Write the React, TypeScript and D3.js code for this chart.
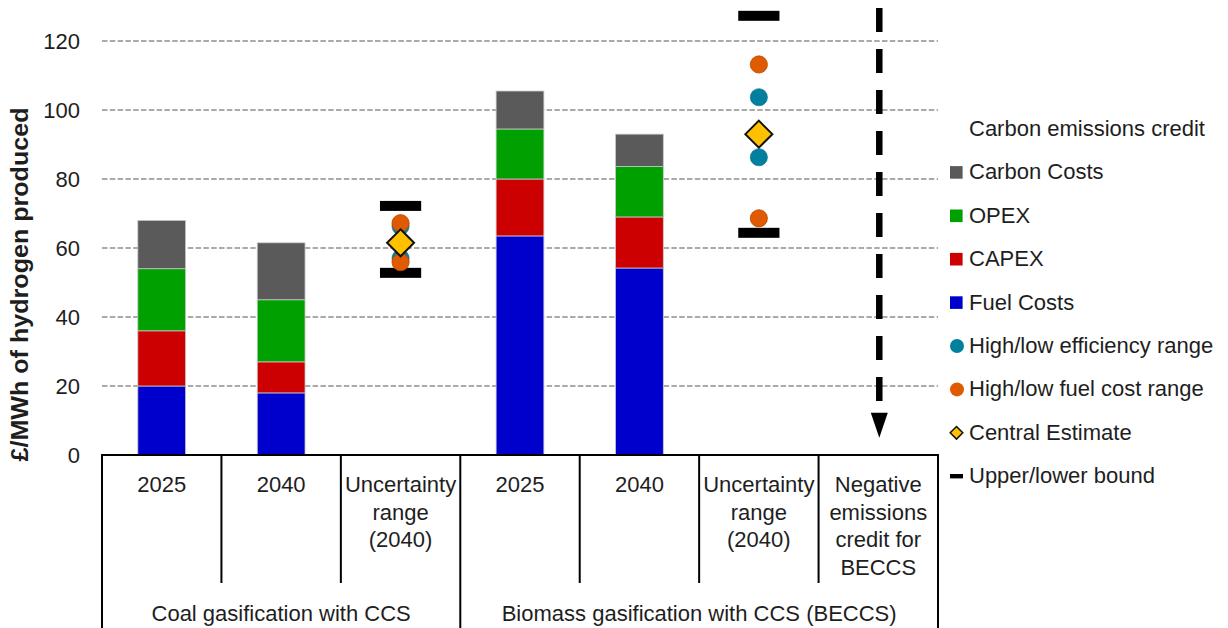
import React from "react";
import * as d3 from "d3";

// ---------- data ----------
const categories = ["2025", "2040", "Uncertainty range (2040)", "2025 ", "2040 ", "Uncertainty range (2040) ", "Negative emissions credit for BECCS"];
const categoryLines = [["2025"], ["2040"], ["Uncertainty", "range", "(2040)"], ["2025"], ["2040"], ["Uncertainty", "range", "(2040)"], ["Negative", "emissions", "credit for", "BECCS"]];
const groups = ["Coal gasification with CCS", "Biomass gasification with CCS (BECCS)"];
const groupStart = [0, 3];
const groupEnd = [2, 6];

const barCategoryIdx = [0, 1, 3, 4];
const fuelCosts = [20, 18, 63.5, 54.2];
const capex = [16, 9, 16.5, 14.8];
const opex = [18, 18, 14.5, 14.6];
const carbonCosts = [14, 16.5, 11, 9.4];

const uncertaintyIdx = [2, 5];
const upperBound = [72.2, 127.3];
const lowerBound = [52.8, 64.4];
const effHigh = [66.3, 103.7];
const effLow = [57.0, 86.3];
const fuelHigh = [67.2, 113.2];
const fuelLow = [55.9, 68.6];
const centralEstimate = [61.5, 93];

const creditIdx = 6;
const creditFrom = 130;
const creditTo = 5;

const yTicks = [0, 20, 40, 60, 80, 100, 120];

const legendLabels = ["Carbon emissions credit", "Carbon Costs", "OPEX", "CAPEX", "Fuel Costs", "High/low efficiency range", "High/low fuel cost range", "Central Estimate", "Upper/lower bound"];
const legendKinds = ["none", "carbon", "opex", "capex", "fuel", "eff", "fuelRange", "central", "bound"];

// ---------- styles ----------
const COLORS: Record<string, string> = {
  fuel: "#0000cc",
  capex: "#cc0000",
  opex: "#00a000",
  carbon: "#5a5a5a",
  eff: "#00809e",
  fuelRange: "#df5a00",
  central: "#ffc000",
};
const FONT = "'Liberation Sans', Arial, sans-serif";
const TXT = "#1e1e1e";
const FS = 22;

export default function App() {
  const W = 1228, H = 628;
  const X0 = 102, X1 = 938, Y0 = 455;
  const x = d3.scaleBand<number>().domain(d3.range(categories.length)).range([X0, X1]).padding(0);
  const y = d3.scaleLinear().domain([0, 130]).range([Y0, 6.5]);
  const bw = x.bandwidth();
  const cx = (i: number) => (x(i) as number) + bw / 2;

  const stackKeys = ["fuel", "capex", "opex", "carbon"];
  const rows = barCategoryIdx.map((ci, k) => ({ ci, fuel: fuelCosts[k], capex: capex[k], opex: opex[k], carbon: carbonCosts[k] }));
  const series = d3.stack<any>().keys(stackKeys)(rows);
  const barW = bw * 0.4;

  const boundW = bw * 0.345;
  const r = 8.6;
  const dHalf = 13.5;
  const diamond = (px: number, py: number, h: number) => `M${px},${py - h}L${px + h},${py}L${px},${py + h}L${px - h},${py}Z`;

  const legX = 950, legTX = 969, legY0 = 136, legStep = 43.4;

  const arrowX = cx(creditIdx) + 1;
  const arrowTipY = y(creditTo);

  return (
    <svg width={W} height={H} style={{ position: "absolute", left: 0, top: 0, background: "#fff" }} fontFamily={FONT}>
      <rect x={0} y={0} width={W} height={H} fill="#fff" />
      {/* grid */}
      {yTicks.filter((t) => t > 0).map((t) => (
        <line key={"g" + t} x1={X0} x2={X1} y1={y(t)} y2={y(t)} stroke="#8f8f8f" strokeWidth={1.6} strokeDasharray="5.5,2.3" />
      ))}
      {/* y tick labels */}
      {yTicks.map((t) => (
        <text key={"t" + t} x={80} y={y(t)} dy="0.35em" textAnchor="end" fontSize={FS} fill={TXT}>{t}</text>
      ))}
      {/* y title */}
      <text transform={`translate(28,${(463 + 106) / 2}) rotate(-90)`} textAnchor="middle" fontSize={23} fontWeight="bold" fill={TXT}
        textLength={354} lengthAdjust="spacingAndGlyphs">£/MWh of hydrogen produced</text>

      {/* stacked bars */}
      {series.map((s) => (
        <g key={s.key} fill={COLORS[s.key]}>
          {s.map((d, k) => (
            <rect key={k} x={cx(d.data.ci) - barW / 2} width={barW} y={y(d[1])} height={y(d[0]) - y(d[1])}
              stroke="#c8c8c8" strokeWidth={0.8} />
          ))}
        </g>
      ))}

      {/* uncertainty ranges */}
      {uncertaintyIdx.map((ci, k) => {
        const px = cx(ci);
        return (
          <g key={"u" + k}>
            <rect x={px - boundW / 2} width={boundW} y={y(upperBound[k]) - 5} height={10} fill="#000" />
            <rect x={px - boundW / 2} width={boundW} y={y(lowerBound[k]) - 5} height={10} fill="#000" />
            <circle cx={px} cy={y(effHigh[k])} r={r} fill={COLORS.eff} stroke="#0a6f88" strokeWidth={0.6} />
            <circle cx={px} cy={y(effLow[k])} r={r} fill={COLORS.eff} stroke="#0a6f88" strokeWidth={0.6} />
            <circle cx={px} cy={y(fuelHigh[k])} r={r} fill={COLORS.fuelRange} stroke="#b84a00" strokeWidth={0.8} />
            <circle cx={px} cy={y(fuelLow[k])} r={r} fill={COLORS.fuelRange} stroke="#b84a00" strokeWidth={0.8} />
            <path d={diamond(px, y(centralEstimate[k]), dHalf)} fill={COLORS.central} stroke="#111" strokeWidth={2} />
          </g>
        );
      })}

      {/* negative emissions credit arrow */}
      <line x1={arrowX} x2={arrowX} y1={y(creditFrom) + 1.5} y2={arrowTipY - 24} stroke="#000" strokeWidth={6.5} strokeDasharray="24,17" />
      <path d={`M${arrowX - 8.5},${arrowTipY - 25}L${arrowX + 8.5},${arrowTipY - 25}L${arrowX},${arrowTipY}Z`} fill="#000" />

      {/* category axis */}
      <line x1={X0 - 1} x2={X1 + 1} y1={Y0} y2={Y0} stroke="#000" strokeWidth={2} />
      {d3.range(categories.length + 1).map((i) => {
        const bx = i < categories.length ? (x(i) as number) : X1;
        const isGroupEdge = i === 0 || i === categories.length || groupStart.includes(i);
        return <line key={"v" + i} x1={bx} x2={bx} y1={Y0} y2={isGroupEdge ? H : 583} stroke="#000" strokeWidth={2} />;
      })}
      {categoryLines.map((lines, i) => (
        <text key={"c" + i} x={cx(i)} y={492} textAnchor="middle" fontSize={FS} fill={TXT}>
          {lines.map((l, j) => (
            <tspan key={j} x={cx(i)} dy={j === 0 ? 0 : 27.5}>{l}</tspan>
          ))}
        </text>
      ))}
      {groups.map((g, k) => {
        const a = x(groupStart[k]) as number;
        const b = (x(groupEnd[k]) as number) + bw;
        return <text key={"gr" + k} x={(a + b) / 2} y={621} textAnchor="middle" fontSize={FS} fill={TXT}>{g}</text>;
      })}

      {/* legend */}
      {legendLabels.map((lab, i) => {
        const by = legY0 + i * legStep;
        const my = by - 7;
        const kind = legendKinds[i];
        let marker: React.ReactNode = null;
        if (["carbon", "opex", "capex", "fuel"].includes(kind)) {
          marker = <rect x={legX} y={my - 6.3} width={12.6} height={12.6} fill={COLORS[kind]} />;
        } else if (kind === "eff" || kind === "fuelRange") {
          marker = <circle cx={legX + 7} cy={my} r={7} fill={COLORS[kind]} />;
        } else if (kind === "central") {
          marker = <path d={diamond(legX + 6.5, my, 6.3)} fill={COLORS.central} stroke="#111" strokeWidth={1.5} />;
        } else if (kind === "bound") {
          marker = <rect x={legX} y={my - 2.2} width={13} height={4.4} fill="#000" />;
        }
        return (
          <g key={"l" + i}>
            {marker}
            <text x={legTX} y={by} fontSize={FS} fill={TXT}>{lab}</text>
          </g>
        );
      })}
    </svg>
  );
}
